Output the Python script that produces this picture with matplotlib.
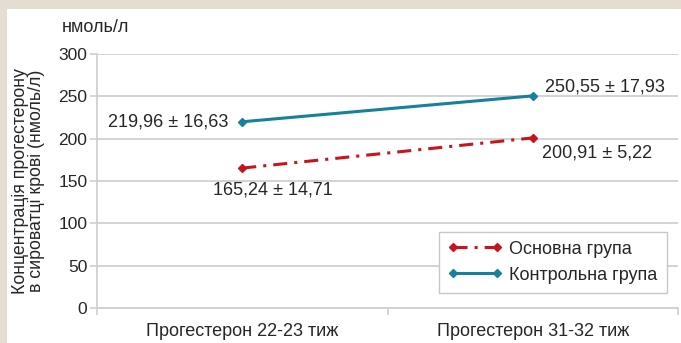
import matplotlib.pyplot as plt

plt.rcParams['font.family'] = ['Liberation Sans', 'DejaVu Sans']
plt.rcParams['text.color'] = '#262626'
plt.rcParams['xtick.labelcolor'] = '#262626'
plt.rcParams['ytick.labelcolor'] = '#262626'

# Progesterone concentration, nmol/l
periods = ['Прогестерон 22-23 тиж', 'Прогестерон 31-32 тиж']
main_group = [165.24, 200.91]
main_sd = [14.71, 5.22]
control_group = [219.96, 250.55]
control_sd = [16.63, 17.93]

grid_col = '#d0d0d0'
red = '#c8141e'
teal = '#17809b'
fs = 13

fig = plt.figure(figsize=(6.81, 3.43), dpi=100)
fig.patch.set_facecolor('#e6ddd2')
# white panel inside the beige frame
panel = fig.add_axes([7 / 681, 0, 1 - 7 / 681, 1 - 9 / 343])
panel.set_axis_off()
panel.add_patch(plt.Rectangle((0, 0), 1, 1, color='white', transform=panel.transAxes))

ax = fig.add_axes([97 / 681, 35 / 343, 581 / 681, 254 / 343])
ax.set_facecolor('white')
x = list(range(len(periods)))

ax.plot(x, main_group, color=red, lw=2.2, dashes=(4.6, 2.3, 1, 2.3),
        marker='D', ms=4.5, label='Основна група')
ax.plot(x, control_group, color=teal, lw=2.2,
        marker='D', ms=4.5, label='Контрольна група')

ax.set_xlim(-0.5, 1.5)
ax.set_ylim(0, 300)
ax.set_yticks(range(0, 301, 50))
ax.set_xticks([-0.5, 0.5, 1.5], minor=False)
ax.set_xticklabels([])
ax.set_xticks(x, periods, minor=True)
ax.tick_params(axis='x', which='minor', length=0, labelsize=fs, pad=11)
ax.tick_params(axis='x', which='major', length=5, color=grid_col, width=1.2)
ax.tick_params(axis='y', length=5, color=grid_col, width=1.2, labelsize=12.5, pad=2)
ax.grid(axis='y', color=grid_col, lw=1.3)
ax.set_axisbelow(True)
for s in ['top', 'right']:
    ax.spines[s].set_visible(False)
for s in ['left', 'bottom']:
    ax.spines[s].set_color(grid_col)
    ax.spines[s].set_linewidth(1.3)

def fmt(m, s):
    return f'{m:.2f} ± {s:.2f}'.replace('.', ',')

ax.annotate(fmt(control_group[0], control_sd[0]), (x[0], control_group[0]),
            xytext=(-10, 0), textcoords='offset points', ha='right', va='center', fontsize=fs)
ax.annotate(fmt(control_group[1], control_sd[1]), (x[1], control_group[1]),
            xytext=(8.5, 6.5), textcoords='offset points', ha='left', va='center', fontsize=fs)
ax.annotate(fmt(main_group[0], main_sd[0]), (x[0], main_group[0]),
            xytext=(-21, -16), textcoords='offset points', ha='left', va='center', fontsize=fs)
ax.annotate(fmt(main_group[1], main_sd[1]), (x[1], main_group[1]),
            xytext=(7, -11), textcoords='offset points', ha='left', va='center', fontsize=fs)

fig.text(62 / 681, 1 - 28 / 343, 'нмоль/л', fontsize=fs, ha='left', va='center')
fig.text(28.5 / 681, 1 - 181 / 343, 'Концентрація прогестерону\nв сироватці крові (нмоль/л)',
         rotation=90, fontsize=12.8, ha='center', va='center', linespacing=0.95)

leg = ax.legend(loc='lower right', bbox_to_anchor=(0.996, 0.025), fontsize=fs,
                numpoints=2, handlelength=3.0, fancybox=False, framealpha=1,
                edgecolor='#c8c8c8', borderpad=0.5, labelspacing=0.5, handletextpad=0.4)
leg.get_frame().set_linewidth(1.0)

fig.savefig('out.png', dpi=100)
